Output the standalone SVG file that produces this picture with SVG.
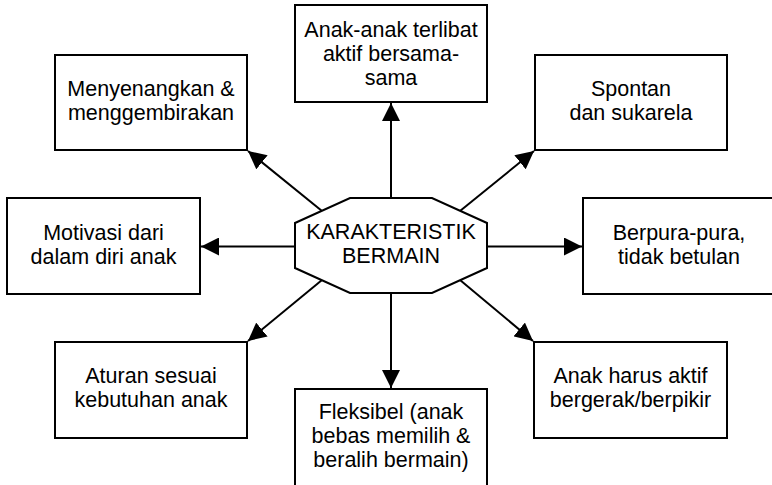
<svg xmlns="http://www.w3.org/2000/svg" width="772" height="485" viewBox="0 0 772 485">
<style>
.box{fill:#fff;stroke:#000;stroke-width:2}
.t{font-family:"Liberation Sans",Arial,sans-serif;font-size:21.5px;fill:#000;text-anchor:middle}
.c{fill:none;stroke:#000;stroke-width:2}
</style>
<defs>
<marker id="ah" markerUnits="userSpaceOnUse" markerWidth="18" markerHeight="18" viewBox="0 0 16 16" refX="16" refY="8" orient="auto">
<path d="M0,0 L16,8 L0,16 Z" fill="#000"/>
</marker>
</defs>
<rect width="772" height="485" fill="#fff"/>
<g id="connectors">
<line class="c" x1="391" y1="198" x2="391" y2="103" marker-end="url(#ah)"/>
<line class="c" x1="391" y1="293" x2="391" y2="388" marker-end="url(#ah)"/>
<line class="c" x1="295" y1="246.5" x2="201" y2="246.5" marker-end="url(#ah)"/>
<line class="c" x1="487" y1="246.5" x2="582" y2="246.5" marker-end="url(#ah)"/>
<line class="c" x1="322" y1="211" x2="248" y2="151" marker-end="url(#ah)"/>
<line class="c" x1="460" y1="211" x2="534" y2="151" marker-end="url(#ah)"/>
<line class="c" x1="322" y1="280" x2="248" y2="341" marker-end="url(#ah)"/>
<line class="c" x1="460" y1="280" x2="533" y2="341" marker-end="url(#ah)"/>
</g>
<g id="center">
<polygon class="box" points="350,198 432,198 487,223 487,268 432,293 350,293 295,268 295,223"/>
<text class="t" x="391" y="239">KARAKTERISTIK</text>
<text class="t" x="391" y="263">BERMAIN</text>
</g>
<g id="n-top">
<rect class="box" x="295" y="5" width="192" height="97"/>
<text class="t" x="391" y="37">Anak-anak terlibat</text>
<text class="t" x="391" y="61">aktif bersama-</text>
<text class="t" x="391" y="85">sama</text>
</g>
<g id="n-topleft">
<rect class="box" x="55" y="55" width="192" height="95"/>
<text class="t" x="151" y="96">Menyenangkan &amp;</text>
<text class="t" x="151" y="120">menggembirakan</text>
</g>
<g id="n-topright">
<rect class="box" x="535" y="55" width="192" height="95"/>
<text class="t" x="631" y="96">Spontan</text>
<text class="t" x="631" y="120">dan sukarela</text>
</g>
<g id="n-left">
<rect class="box" x="7" y="198" width="193" height="96"/>
<text class="t" x="103.5" y="240">Motivasi dari</text>
<text class="t" x="103.5" y="264">dalam diri anak</text>
</g>
<g id="n-right">
<rect class="box" x="583" y="198" width="192" height="96"/>
<text class="t" x="679" y="240">Berpura-pura,</text>
<text class="t" x="679" y="264">tidak betulan</text>
</g>
<g id="n-bottomleft">
<rect class="box" x="55" y="342" width="192" height="96"/>
<text class="t" x="151" y="383">Aturan sesuai</text>
<text class="t" x="151" y="407">kebutuhan anak</text>
</g>
<g id="n-bottomright">
<rect class="box" x="534" y="342" width="193" height="96"/>
<text class="t" x="630.5" y="383">Anak harus aktif</text>
<text class="t" x="630.5" y="407">bergerak/berpikir</text>
</g>
<g id="n-bottom">
<rect class="box" x="295" y="389" width="192" height="110"/>
<text class="t" x="391" y="419">Fleksibel (anak</text>
<text class="t" x="391" y="443">bebas memilih &amp;</text>
<text class="t" x="391" y="467">beralih bermain)</text>
</g>
</svg>
